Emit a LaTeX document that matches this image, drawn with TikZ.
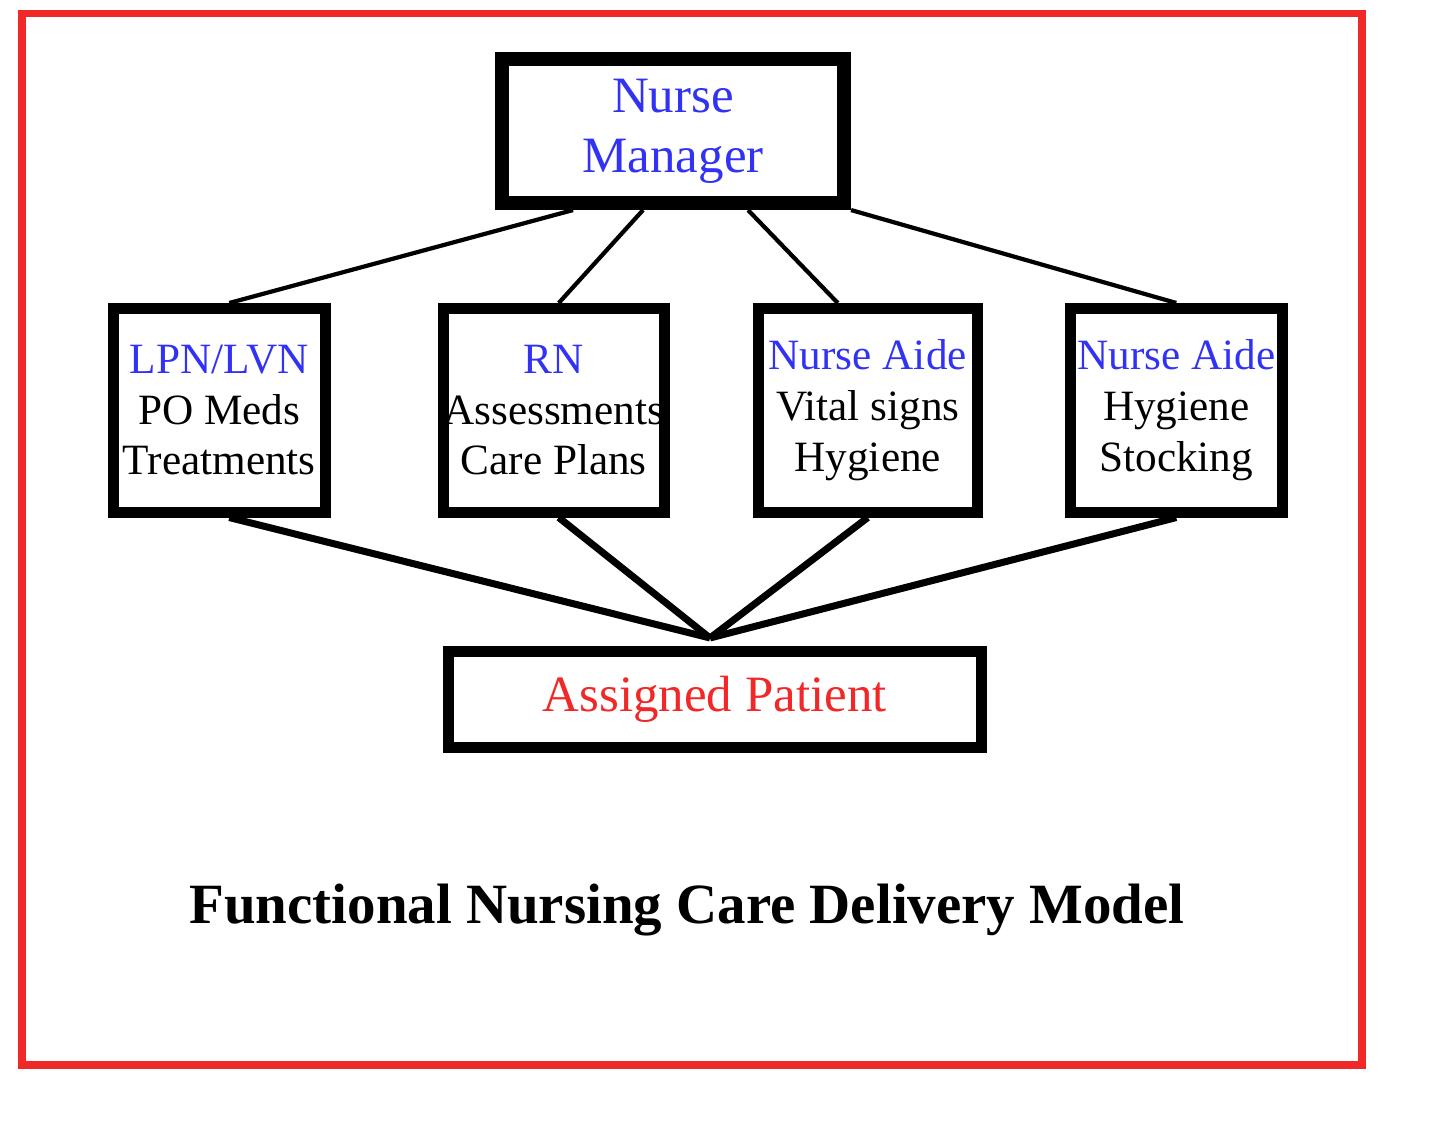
\documentclass[tikz,border=0pt]{standalone}
\usepackage{fontspec}
\setmainfont{Liberation Serif}
\usepackage{tikz}
\usetikzlibrary{positioning}
\definecolor{roleblue}{RGB}{50,50,245}
\definecolor{framered}{RGB}{240,40,40}
\tikzset{
  role/.style={rectangle, draw=black, line width=3pt, minimum width=2.12cm, minimum height=2.04cm, align=center, font=\fontsize{12.3}{14.4}\selectfont, anchor=north west, inner sep=0pt},
  link/.style={draw=black, line width=1.2pt}
}
\begin{document}
\begin{tikzpicture}
\useasboundingbox (0,0) rectangle (14.4,11.46);

\draw[draw=framered, line width=2pt] (0.22,0.81) rectangle (13.62,11.32);

\node at (4.95,10.94)[rectangle, draw=black, line width=4pt, minimum width=3.42cm, minimum height=1.44cm, anchor=north west, align=center, inner sep=0pt, font=\fontsize{14.5}{17}\selectfont, text=roleblue] (manager) {Nurse\\Manager};

\node at (1.08,8.43)[role] (lpn) {\textcolor{roleblue}{LPN/LVN}\\PO Meds\\Treatments};
\node at (4.38,8.43)[role] (rn) {\textcolor{roleblue}{RN}\\Assessments\\Care Plans};
\node at (7.53,8.43)[role, minimum width=2.19cm] (aide1) {\textcolor{roleblue}{Nurse Aide}\\Vital signs\\Hygiene};
\node at (10.65,8.43)[role] (aide2) {\textcolor{roleblue}{Nurse Aide}\\Hygiene\\Stocking};

\node at (4.43,5.0)[rectangle, draw=black, line width=3pt, minimum width=5.33cm, minimum height=0.96cm, anchor=north west, inner sep=0pt, font=\fontsize{14.5}{17}\selectfont, text=framered] (patient) {Assigned Patient\\[0.9em]};

\coordinate (hub) at (7.10,5.08);

% manager to roles
\draw[link] ([xshift=-1.0cm]manager.south) -- ([xshift=0.1cm]lpn.north);
\draw[link] ([xshift=-0.3cm]manager.south) -- ([xshift=0.05cm]rn.north);
\draw[link] ([xshift=0.75cm]manager.south) -- ([xshift=-0.3cm]aide1.north);
\draw[link] (manager.south east) -- (aide2.north);

% roles to patient
\draw[link, line width=2pt] ([xshift=0.1cm]lpn.south) -- (hub);
\draw[link, line width=2pt] ([xshift=0.05cm]rn.south) -- (hub);
\draw[link, line width=2pt] (aide1.south) -- (hub);
\draw[link, line width=2pt] (aide2.south) -- (hub);

\node at (6.87,2.36)[font=\bfseries\fontsize{16.2}{19}\selectfont] (title) {Functional Nursing Care Delivery Model};

\end{tikzpicture}
\end{document}
